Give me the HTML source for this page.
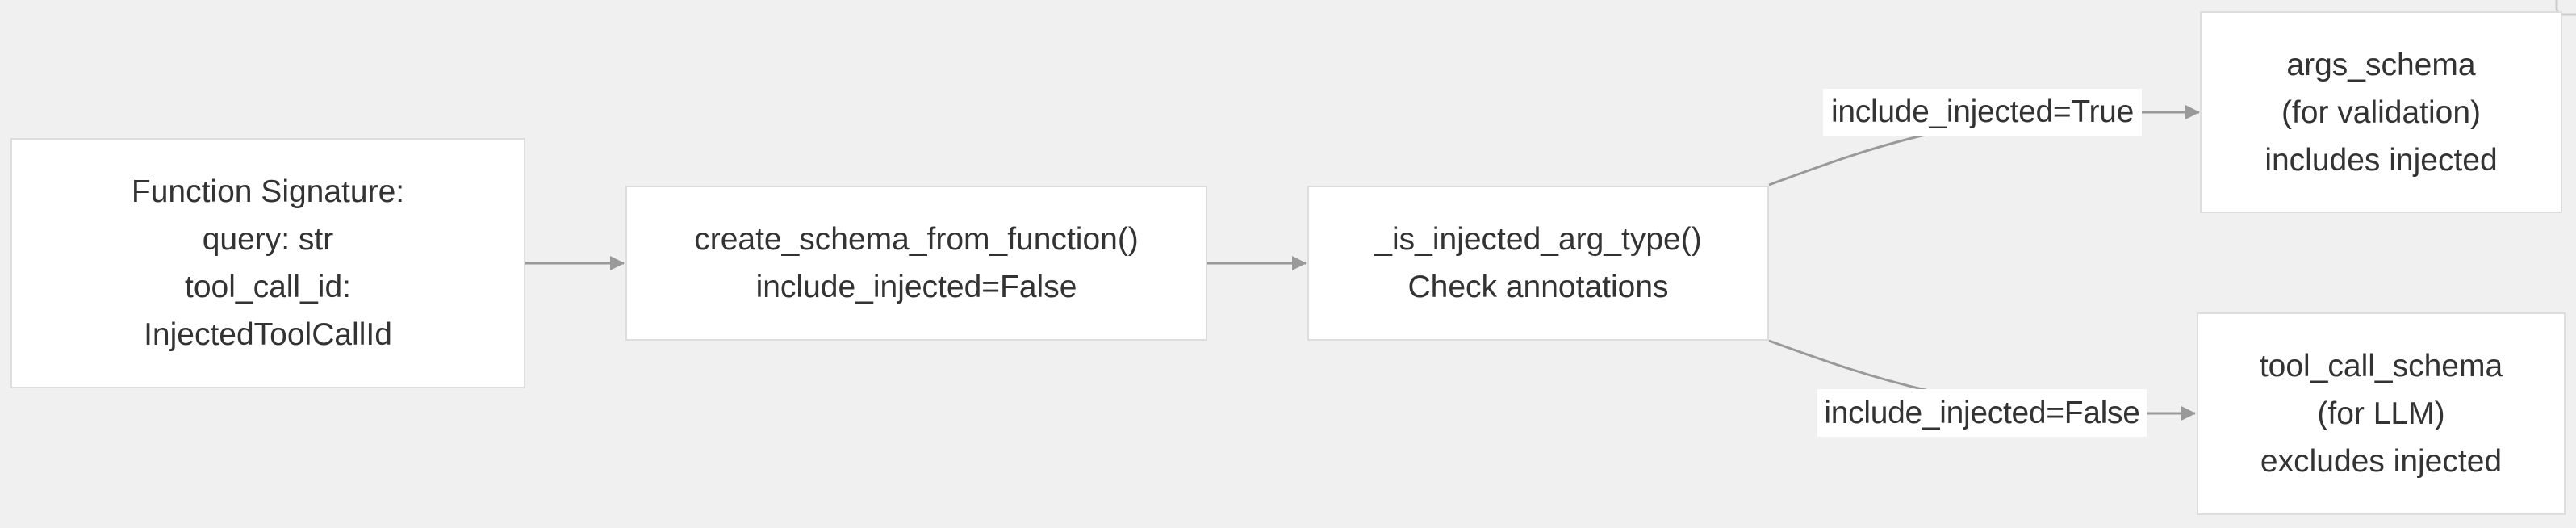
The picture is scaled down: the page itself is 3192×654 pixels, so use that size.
<!DOCTYPE html>
<html><head><meta charset="utf-8"><style>
html,body{margin:0;padding:0;background:#f0f0f0;}
body{width:3192px;height:654px;position:relative;overflow:hidden;font-family:"Liberation Sans",sans-serif;color:#333;}
.n{position:absolute;background:#fff;border:2px solid #ddd;box-sizing:border-box;display:flex;align-items:center;justify-content:center;text-align:center;font-size:39px;line-height:59px;}
.l{position:absolute;background:#fff;display:flex;align-items:center;justify-content:center;font-size:39px;white-space:nowrap;letter-spacing:-0.3px;}
svg{position:absolute;left:0;top:0;}
</style></head><body>
<svg width="3192" height="654">
<defs><marker id="a" markerWidth="18" markerHeight="18" refX="17" refY="9" orient="auto" markerUnits="userSpaceOnUse"><path d="M0,0 L18,9 L0,18 z" fill="#999"/></marker></defs>
<g stroke="#999" stroke-width="3" fill="none">
<path d="M651,326 L773,326" marker-end="url(#a)"/>
<path d="M1496,326 L1618,326" marker-end="url(#a)"/>
<path d="M2192,229 C2260,204 2320,182 2390,166"/>
<path d="M2654,139 L2725,139" marker-end="url(#a)"/>
<path d="M2192,422 C2260,447 2320,468 2390,484"/>
<path d="M2660,512 L2720,512" marker-end="url(#a)"/>
</g>
<rect x="3168" y="-20" width="40" height="38" rx="8" fill="none" stroke="#ccc" stroke-width="3"/>
</svg>
<div class="n" style="left:13px;top:171px;width:638px;height:310px;">Function Signature:<br>query: str<br>tool_call_id:<br>InjectedToolCallId</div>
<div class="n" style="left:775px;top:230px;width:721px;height:192px;">create_schema_from_function()<br>include_injected=False</div>
<div class="n" style="left:1620px;top:230px;width:572px;height:192px;">_is_injected_arg_type()<br>Check annotations</div>
<div class="n" style="left:2726px;top:14px;width:449px;height:250px;">args_schema<br>(for validation)<br>includes injected</div>
<div class="n" style="left:2722px;top:387px;width:457px;height:251px;">tool_call_schema<br>(for LLM)<br>excludes injected</div>
<div class="l" style="left:2259px;top:110px;width:395px;height:58px;">include_injected=True</div>
<div class="l" style="left:2252px;top:482px;width:408px;height:59px;">include_injected=False</div>
</body></html>
